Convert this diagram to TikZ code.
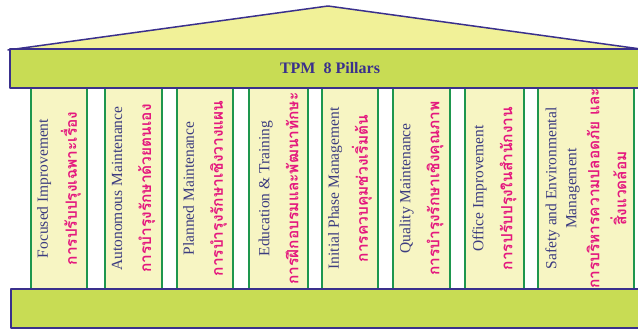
\documentclass[tikz,border=0pt]{standalone}
\usepackage{fontspec}
\setmainfont{Liberation Serif}
\newfontfamily\thaifont[Script=Thai]{Loma}
\usepackage{tikz}
\usetikzlibrary{positioning}

\definecolor{roofyellow}{RGB}{241,241,152}
\definecolor{beamgreen}{RGB}{200,220,84}
\definecolor{pillarcream}{RGB}{247,245,195}
\definecolor{pillargreen}{RGB}{30,150,78}
\definecolor{templenavy}{RGB}{58,48,140}
\definecolor{textnavy}{RGB}{60,60,128}
\definecolor{thaimagenta}{RGB}{228,24,126}

\newcommand{\thailine}[1]{{\thaifont\bfseries\color{thaimagenta}#1}}

\tikzset{
  beam/.style={draw=templenavy, line width=1.5pt, fill=beamgreen, minimum width=640pt,
    minimum height=39pt, inner sep=0pt, text=templenavy,
    font=\fontsize{16}{19}\selectfont\bfseries},
  pillar/.style={draw=pillargreen, line width=2pt, fill=pillarcream, rotate=90,
    minimum width=201pt, inner sep=0pt, align=center, text=textnavy,
    font=\fontsize{15.5}{20}\selectfont}
}

\begin{document}
\begin{tikzpicture}[x=1pt, y=-1pt, line cap=round, line join=round]
  \clip (0,0) rectangle (638,329);
  %--- Roof
    \draw[templenavy, line width=1.5pt, fill=roofyellow] (8,50) -- (328,6) -- (648,50) -- cycle;
  %--- Pillars
    \node[pillar, minimum height=56pt] (fi) at (59,188.5)
      {Focused Improvement\\[9pt]\thailine{การปรับปรุงเฉพาะเรื่อง}};
    \node[pillar, minimum height=57pt] (am) at (133.5,188.5)
      {Autonomous Maintenance\\[9pt]\thailine{การบำรุงรักษาด้วยตนเอง}};
    \node[pillar, minimum height=56pt] (pm) at (205,188.5)
      {Planned Maintenance\\[9pt]\thailine{การบำรุงรักษาเชิงวางแผน}};
    \node[pillar, minimum height=59pt] (et) at (278.5,188.5)
      {Education \& Training\\[9pt]\thailine{การฝึกอบรมและพัฒนาทักษะ}};
    \node[pillar, minimum height=56pt] (ipm) at (350,188.5)
      {Initial Phase Management\\[9pt]\thailine{การควบคุมช่วงเริ่มต้น}};
    \node[pillar, minimum height=57pt] (qm) at (421.5,188.5)
      {Quality Maintenance\\[9pt]\thailine{การบำรุงรักษาเชิงคุณภาพ}};
    \node[pillar, minimum height=59pt] (oi) at (494.5,188.5)
      {Office Improvement\\[9pt]\thailine{การปรับปรุงในสำนักงาน}};
    \node[pillar, minimum height=96pt] (se) at (586,188.5)
      {Safety and Environmental\\Management\\[3pt]\thailine{การบริหารความปลอดภัย และ}\\[7pt]\thailine{สิ่งแวดล้อม}};
  %--- Beams
    \node[beam] (capital) at (330,68.5) {TPM\ \ 8 Pillars};
    \draw[templenavy, line width=1.5pt, fill=beamgreen] (11,289) rectangle (651,328);
\end{tikzpicture}
\end{document}
